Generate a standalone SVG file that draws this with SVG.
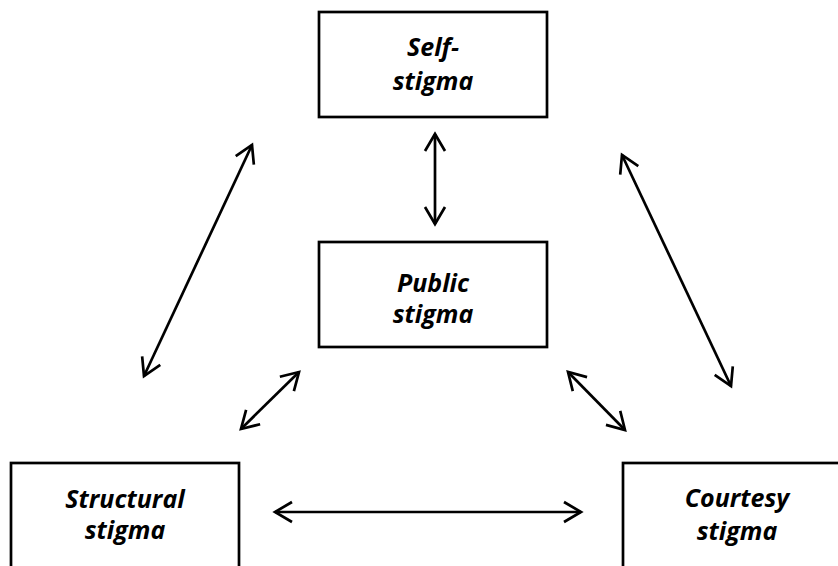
<svg xmlns="http://www.w3.org/2000/svg" width="838" height="566" viewBox="0 0 838 566">
<defs>
<style>
.box{fill:#fff;stroke:#000;stroke-width:2.7}
.lbl{font-family:"Open Sans","Liberation Sans",sans-serif;font-weight:bold;font-style:italic;font-size:25px;fill:#000;text-anchor:middle}
.arr{stroke:#000;stroke-width:2.7;fill:none;marker-start:url(#ah);marker-end:url(#ah)}
</style>
<marker id="ah" markerUnits="userSpaceOnUse" viewBox="-20 -12 24 24" refX="0" refY="0" markerWidth="24" markerHeight="24" orient="auto-start-reverse">
<path d="M-17,-10 L0,0 L-17,10" fill="none" stroke="#000" stroke-width="2.7" stroke-linejoin="miter"/>
</marker>
</defs>
<rect width="838" height="566" fill="#fff"/>
<g id="self">
<rect class="box" x="319" y="12" width="228" height="105"/>
<text class="lbl" x="433" y="56">Self-</text>
<text class="lbl" x="433" y="90">stigma</text>
</g>
<g id="public">
<rect class="box" x="319" y="242" width="228" height="105"/>
<text class="lbl" x="433" y="292">Public</text>
<text class="lbl" x="433" y="323">stigma</text>
</g>
<g id="structural">
<rect class="box" x="11" y="463" width="228" height="120"/>
<text class="lbl" x="125" y="508">Structural</text>
<text class="lbl" x="125" y="539">stigma</text>
</g>
<g id="courtesy">
<rect class="box" x="623" y="463" width="228" height="120"/>
<text class="lbl" x="737" y="507">Courtesy</text>
<text class="lbl" x="737" y="540">stigma</text>
</g>
<g id="connectors">
<line class="arr" x1="435" y1="134" x2="435" y2="224"/>
<line class="arr" x1="252" y1="145" x2="144" y2="376"/>
<line class="arr" x1="622" y1="155" x2="731" y2="386"/>
<line class="arr" x1="299" y1="372" x2="241" y2="429"/>
<line class="arr" x1="568" y1="372" x2="625" y2="430"/>
<line class="arr" x1="275" y1="512" x2="581" y2="512"/>
</g>
</svg>
